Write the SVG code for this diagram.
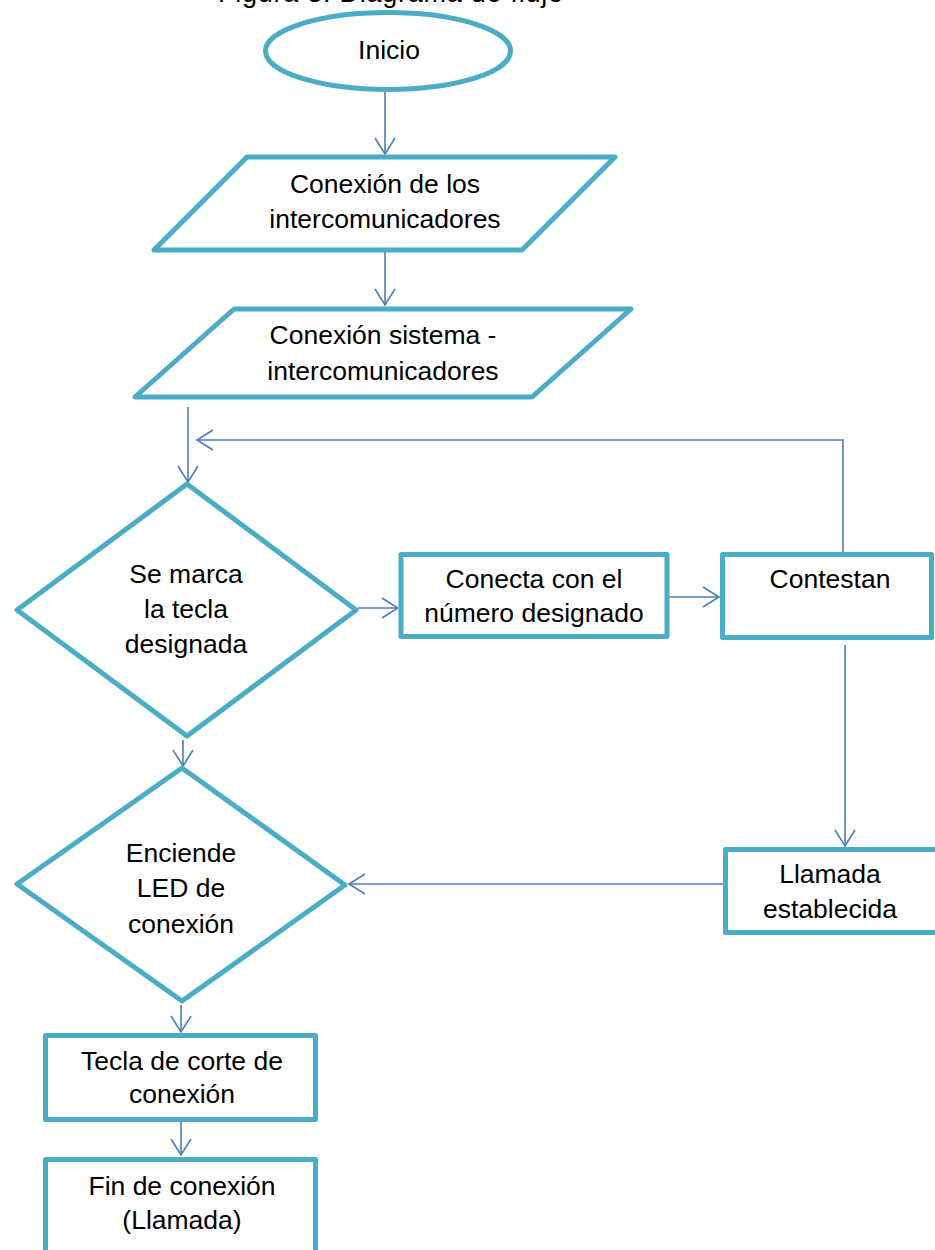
<svg xmlns="http://www.w3.org/2000/svg" width="935" height="1250" viewBox="0 0 935 1250">
  <style>
    .shape { fill: #ffffff; stroke: #4bacc6; stroke-width: 5; stroke-linejoin: round; }
    .label { font-family: "Liberation Sans", Arial, sans-serif; font-size: 26.5px; fill: #000000; text-anchor: middle; }
    .caption { font-family: "Liberation Sans", Arial, sans-serif; font-size: 27px; fill: #000000; }
    .link { fill: none; stroke: #4a7ebb; stroke-width: 1.6; marker-end: url(#arrow); }
  </style>
  <defs>
    <marker id="arrow" viewBox="-18 -12 20 24" refX="0" refY="0" markerWidth="20" markerHeight="24" markerUnits="userSpaceOnUse" orient="auto">
      <path d="M-16,-10 L0,0 L-16,10" fill="none" stroke="#4a7ebb" stroke-width="1.6"/>
    </marker>
  </defs>
  <rect width="935" height="1250" fill="#ffffff"/>

  <!-- caption running off the top edge -->
  <text class="caption" x="218" y="1.5" textLength="345" lengthAdjust="spacing">Figura 3. Diagrama de flujo</text>

  <g id="connectors">
    <path class="link" d="M385,92 V154"/>
    <path class="link" d="M385,252 V305"/>
    <path class="link" d="M188,407 V482"/>
    <path class="link" d="M843,552 V440 H197"/>
    <path class="link" d="M358,608 H398"/>
    <path class="link" d="M669,597 H719"/>
    <path class="link" d="M845,645 V846"/>
    <path class="link" d="M723,884 H349"/>
    <path class="link" d="M183,740 V766"/>
    <path class="link" d="M181,1005 V1032"/>
    <path class="link" d="M181,1122 V1155"/>
  </g>

  <g id="inicio">
    <ellipse class="shape" cx="388" cy="51" rx="122.5" ry="38.5"/>
    <text class="label" x="389" y="59">Inicio</text>
  </g>

  <g id="conexion-intercomunicadores">
    <polygon class="shape" points="247,157 615,157 522,250 154,250"/>
    <text class="label" x="385" y="193">Conexión de los</text>
    <text class="label" x="385" y="228">intercomunicadores</text>
  </g>

  <g id="conexion-sistema">
    <polygon class="shape" points="234,309 631,309 532,397 135,397"/>
    <text class="label" x="383" y="344">Conexión sistema -</text>
    <text class="label" x="383" y="380">intercomunicadores</text>
  </g>

  <g id="marca-tecla">
    <polygon class="shape" points="187,484 356,610 187,736 17,610"/>
    <text class="label" x="186" y="583">Se marca</text>
    <text class="label" x="186" y="618">la tecla</text>
    <text class="label" x="186" y="653">designada</text>
  </g>

  <g id="conecta-numero">
    <rect class="shape" x="401" y="554.5" width="266" height="82"/>
    <text class="label" x="534" y="588">Conecta con el</text>
    <text class="label" x="534" y="622">número designado</text>
  </g>

  <g id="contestan">
    <rect class="shape" x="722.5" y="554.5" width="209" height="83"/>
    <text class="label" x="830" y="588">Contestan</text>
  </g>

  <g id="llamada-establecida">
    <rect class="shape" x="725.5" y="849.5" width="214" height="83"/>
    <text class="label" x="830" y="883">Llamada</text>
    <text class="label" x="830" y="918">establecida</text>
  </g>

  <g id="enciende-led">
    <polygon class="shape" points="182,768 345,885 182,1001 17,884"/>
    <text class="label" x="181" y="862">Enciende</text>
    <text class="label" x="181" y="897">LED de</text>
    <text class="label" x="181" y="933">conexión</text>
  </g>

  <g id="tecla-corte">
    <rect class="shape" x="45.5" y="1035.5" width="270" height="84"/>
    <text class="label" x="182" y="1070">Tecla de corte de</text>
    <text class="label" x="182" y="1103">conexión</text>
  </g>

  <g id="fin-conexion">
    <rect class="shape" x="45.5" y="1159.5" width="270" height="120"/>
    <text class="label" x="182" y="1195">Fin de conexión</text>
    <text class="label" x="182" y="1229">(Llamada)</text>
  </g>
</svg>
